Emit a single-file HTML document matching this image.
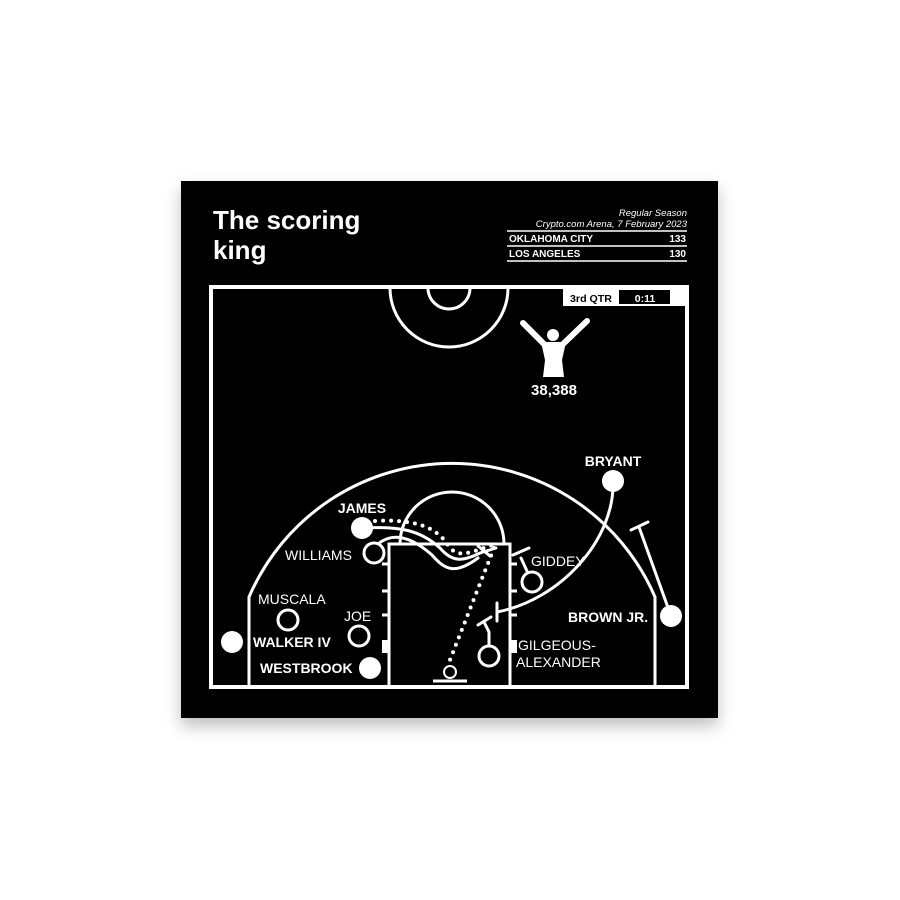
<!DOCTYPE html>
<html><head><meta charset="utf-8"><style>
html,body{margin:0;padding:0;background:#fff;width:900px;height:900px;overflow:hidden}
svg{display:block}
text{font-family:"Liberation Sans",sans-serif;fill:#fff}
</style></head><body>
<svg width="900" height="900" viewBox="0 0 900 900">
<defs><filter id="sh" x="-10%" y="-10%" width="120%" height="130%"><feDropShadow dx="0" dy="8" stdDeviation="8" flood-color="#000" flood-opacity="0.25"/></filter></defs>
<rect x="181" y="181" width="537" height="537" fill="#000" filter="url(#sh)"/>
<text x="213" y="229" font-size="26" font-weight="bold">The scoring</text>
<text x="213" y="259" font-size="26" font-weight="bold">king</text>
<text x="687" y="216" font-size="9.5" font-style="italic" text-anchor="end">Regular Season</text>
<text x="687" y="227" font-size="9.5" font-style="italic" text-anchor="end">Crypto.com Arena, 7 February 2023</text>
<g stroke="#fff" stroke-width="1.5"><line x1="507" y1="231" x2="687" y2="231"/><line x1="507" y1="246" x2="687" y2="246"/><line x1="507" y1="261" x2="687" y2="261"/></g>
<text x="509" y="242" font-size="10" font-weight="bold">OKLAHOMA CITY</text>
<text x="686" y="242" font-size="10" font-weight="bold" text-anchor="end">133</text>
<text x="509" y="257" font-size="10" font-weight="bold">LOS ANGELES</text>
<text x="686" y="257" font-size="10" font-weight="bold" text-anchor="end">130</text>
<g fill="none" stroke="#fff" stroke-width="3">
<rect x="211" y="287" width="476" height="400" stroke-width="4"/>
<path d="M390 288 A59 59 0 0 0 508 288"/>
<path d="M428 288 A21 21 0 0 0 470 288"/>
<path d="M249 687 L249 597 A221 221 0 0 1 655 597 L655 687"/>
<rect x="389" y="544" width="121" height="143"/>
<path d="M400 544 A52 52 0 0 1 504 544"/>
<line x1="433" y1="681" x2="467" y2="681"/>
<circle cx="450" cy="672" r="6" stroke-width="2"/>
</g>
<g stroke="#fff" stroke-width="3">
<line x1="382" y1="564" x2="389" y2="564"/><line x1="382" y1="591" x2="389" y2="591"/><line x1="382" y1="615" x2="389" y2="615"/>
<line x1="510" y1="564" x2="517" y2="564"/><line x1="510" y1="591" x2="517" y2="591"/><line x1="510" y1="615" x2="517" y2="615"/>
</g>
<rect x="382" y="640" width="7" height="13" fill="#fff"/><rect x="510" y="640" width="7" height="13" fill="#fff"/>
<rect x="563" y="288" width="124" height="18" fill="#fff"/>
<rect x="619" y="290" width="51" height="14" fill="#000"/>
<text x="591" y="302" font-size="10.5" font-weight="bold" text-anchor="middle" textLength="42" lengthAdjust="spacingAndGlyphs" style="fill:#000">3rd QTR</text>
<text x="645" y="302" font-size="10.5" font-weight="bold" text-anchor="middle">0:11</text>
<g fill="#fff" stroke="#fff">
<circle cx="553" cy="335" r="6" stroke="none"/>
<path d="M541 342 L566 342 L562 360 L564 377 L543 377 L545 360 Z" stroke="none"/>
<path d="M546 346 L523 323 M561 346 L587 321" stroke-width="6" stroke-linecap="round" fill="none"/>
</g>
<text x="554" y="395" font-size="15" font-weight="bold" text-anchor="middle">38,388</text>
<g fill="none" stroke="#fff" stroke-width="3" stroke-linecap="round">
<path d="M613 481 C615 540 560 600 497 612"/>
<line x1="497" y1="603" x2="497" y2="621"/>
<path d="M671 616 L639 527"/>
<line x1="631" y1="530" x2="648" y2="522"/>
<path d="M532 582 L521 558"/><line x1="513" y1="555" x2="529" y2="548"/>
<path d="M489 656 L489 632 L484 622"/><line x1="478" y1="625" x2="491" y2="617"/>
<path d="M362 528 C400 526 420 530 440 548 C452 562 462 562 480 553 L496 548"/>
<path d="M378 544 C395 530 415 540 432 555 C445 570 455 575 478 558"/>
<path d="M478 546 L490 556"/>
</g>
<g fill="none" stroke="#fff" stroke-width="4" stroke-linecap="round" stroke-dasharray="0 8">
<path d="M375 521 C410 519 435 525 448 545 C458 560 470 552 493 545"/>
<path d="M494 548 L448 665"/>
</g>
<g fill="#fff"><circle cx="362" cy="528" r="11"/><circle cx="232" cy="642" r="11"/><circle cx="370" cy="668" r="11"/><circle cx="613" cy="481" r="11"/><circle cx="671" cy="616" r="11"/></g>
<g fill="#000" stroke="#fff" stroke-width="3"><circle cx="374" cy="553" r="10"/><circle cx="532" cy="582" r="10"/><circle cx="288" cy="620" r="10"/><circle cx="359" cy="636" r="10"/><circle cx="489" cy="656" r="10"/></g>
<g font-size="14">
<text x="362" y="513" font-weight="bold" text-anchor="middle">JAMES</text>
<text x="285" y="560">WILLIAMS</text>
<text x="531" y="566">GIDDEY</text>
<text x="258" y="604">MUSCALA</text>
<text x="344" y="621">JOE</text>
<text x="253" y="647" font-weight="bold">WALKER IV</text>
<text x="260" y="673" font-weight="bold">WESTBROOK</text>
<text x="518" y="650">GILGEOUS-</text>
<text x="516" y="667">ALEXANDER</text>
<text x="613" y="466" font-weight="bold" text-anchor="middle">BRYANT</text>
<text x="568" y="622" font-weight="bold">BROWN JR.</text>
</g>
</svg>
</body></html>
